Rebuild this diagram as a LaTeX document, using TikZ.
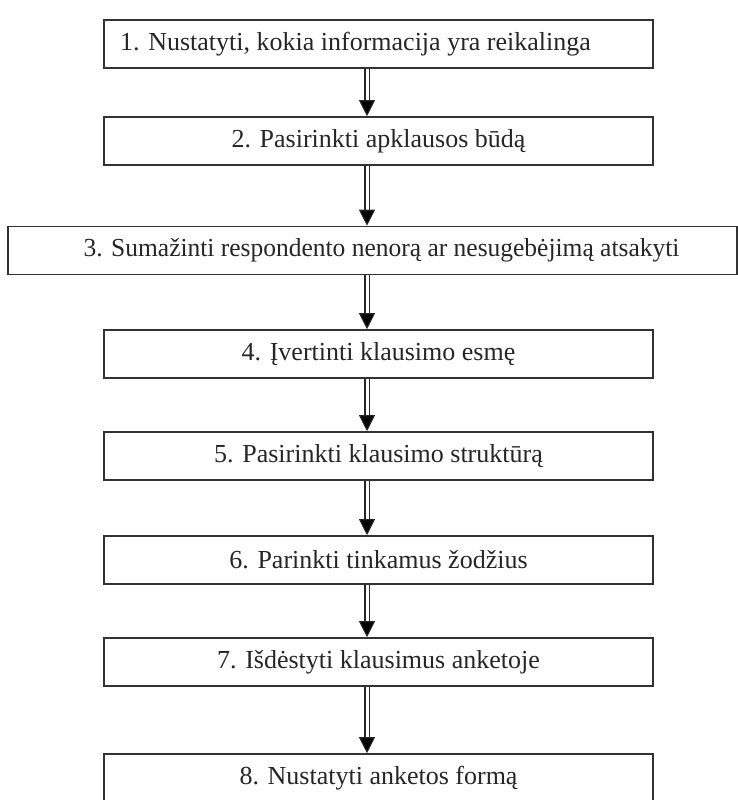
\documentclass[tikz,border=0pt]{standalone}
\usepackage{fontspec}
\setmainfont{Liberation Serif}
\usetikzlibrary{arrows.meta}
\begin{document}
\begin{tikzpicture}[x=1pt,y=-1pt,
  stepbox/.style={draw=black!80, line width=1.6pt, minimum height=48pt,
    inner sep=0pt, font=\fontsize{26}{30}\selectfont, text=black!85},
  narrowbox/.style={stepbox, minimum width=549pt},
  flow/.style={draw=black!85, line width=1.1pt, double=white, double distance=3pt,
    -{Triangle[width=16pt,length=16pt,fill=black]}}]
\useasboundingbox (0,0) rectangle (738,800);
\node[narrowbox] (s1) at (378.5,44) {\hspace*{-46pt}1. Nustatyti, kokia informacija yra reikalinga};
\node[narrowbox] (s2) at (378.5,141) {2. Pasirinkti apklausos būdą};
\node[stepbox, minimum width=729pt] (s3) at (372.5,250.5) {\hspace*{18pt}\scalebox{0.98}[1]{3. Sumažinti respondento nenorą ar nesugebėjimą atsakyti}};
\node[narrowbox] (s4) at (378.5,354) {4. Įvertinti klausimo esmę};
\node[narrowbox] (s5) at (378.5,456) {5. Pasirinkti klausimo struktūrą};
\node[narrowbox] (s6) at (378.5,560) {6. Parinkti tinkamus žodžius};
\node[narrowbox] (s7) at (378.5,662) {7. Išdėstyti klausimus anketoje};
\node[narrowbox] (s8) at (378.5,778) {8. Nustatyti anketos formą};
\foreach \a/\b in {s1/s2,s2/s3,s3/s4,s4/s5,s5/s6,s6/s7,s7/s8}
  \draw[flow] (\a.south -| 367,0) -- (\b.north -| 367,0);
\end{tikzpicture}
\end{document}
